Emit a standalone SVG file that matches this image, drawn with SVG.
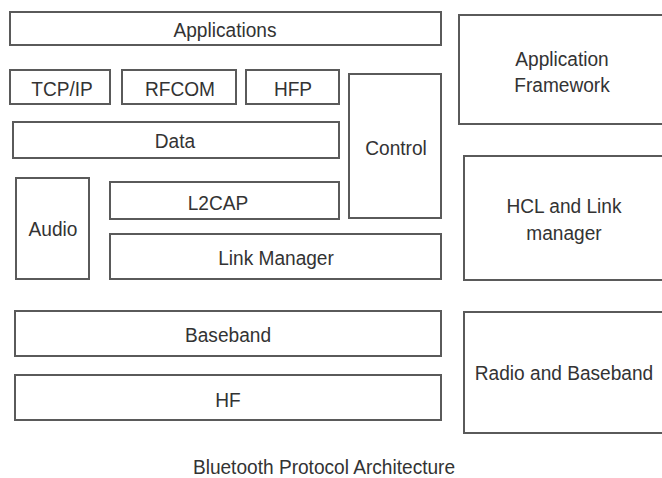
<svg xmlns="http://www.w3.org/2000/svg" width="662" height="478" viewBox="0 0 662 478">
<style>
rect.b{fill:#fff;stroke:#5a5a5a;stroke-width:2}
text{font-family:"Liberation Sans",Arial,sans-serif;font-size:21px;fill:#333;text-anchor:middle}
</style>
<rect x="0" y="0" width="662" height="478" fill="#fff"/>
<g id="applications"><rect class="b" x="10" y="12" width="431" height="33"/><text transform="translate(225 37) scale(0.91 1)">Applications</text></g>
<g id="tcpip"><rect class="b" x="10" y="70" width="100" height="34"/><text transform="translate(62 96) scale(0.91 1)">TCP/IP</text></g>
<g id="rfcom"><rect class="b" x="122" y="70" width="114" height="34"/><text transform="translate(180 96) scale(0.91 1)">RFCOM</text></g>
<g id="hfp"><rect class="b" x="246" y="70" width="93" height="34"/><text transform="translate(293 96) scale(0.91 1)">HFP</text></g>
<g id="control"><rect class="b" x="349" y="74" width="92" height="144"/><text transform="translate(396 155) scale(0.91 1)">Control</text></g>
<g id="data"><rect class="b" x="13" y="122" width="326" height="36"/><text transform="translate(175 148) scale(0.91 1)">Data</text></g>
<g id="audio"><rect class="b" x="16" y="178" width="73" height="101"/><text transform="translate(53 236) scale(0.91 1)">Audio</text></g>
<g id="l2cap"><rect class="b" x="110" y="182" width="229" height="37"/><text transform="translate(218 210) scale(0.91 1)">L2CAP</text></g>
<g id="linkmanager"><rect class="b" x="110" y="234" width="331" height="45"/><text transform="translate(276 265) scale(0.91 1)">Link Manager</text></g>
<g id="baseband"><rect class="b" x="15" y="311" width="426" height="45"/><text transform="translate(228 342) scale(0.91 1)">Baseband</text></g>
<g id="hf"><rect class="b" x="15" y="375" width="426" height="45"/><text transform="translate(228 407) scale(0.91 1)">HF</text></g>
<g id="appframework"><rect class="b" x="459" y="15" width="210" height="109"/><text transform="translate(562 66) scale(0.91 1)">Application</text><text transform="translate(562 92) scale(0.91 1)">Framework</text></g>
<g id="hcl"><rect class="b" x="464" y="156" width="210" height="124"/><text transform="translate(564 213) scale(0.91 1)">HCL and Link</text><text transform="translate(564 240) scale(0.91 1)">manager</text></g>
<g id="radio"><rect class="b" x="464" y="312" width="210" height="121"/><text transform="translate(564 380) scale(0.91 1)">Radio and Baseband</text></g>
<g id="connectors"></g>
<text transform="translate(324 474) scale(0.91 1)">Bluetooth Protocol Architecture</text>
</svg>
